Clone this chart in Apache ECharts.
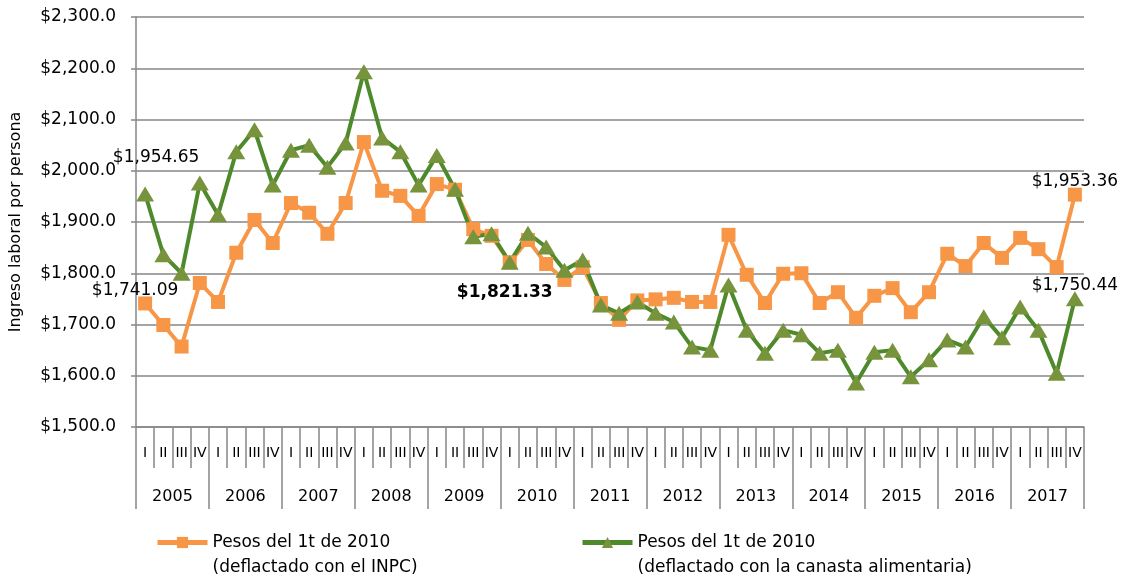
<!DOCTYPE html>
<html>
<head>
<meta charset="utf-8">
<script src="https://cdn.jsdelivr.net/npm/echarts@6/dist/echarts.min.js"></script>
<style>
  html, body { margin: 0; padding: 0; background: #fff; }
  #chart { width: 1123px; height: 579px; }
</style>
</head>
<body>
<div id="chart"></div>
<script>
// años y trimestres
const years = ['2005', '2006', '2007', '2008', '2009', '2010', '2011', '2012', '2013', '2014', '2015', '2016', '2017'];
const quarters = ['I', 'II', 'III', 'IV'];
const yTicks = [1500, 1600, 1700, 1800, 1900, 2000, 2100, 2200, 2300];

// ingreso laboral deflactado con el INPC
const inpc = [1741.09, 1699, 1657, 1781, 1744, 1840, 1904, 1859, 1937, 1918, 1877, 1937,
  2056, 1961, 1951, 1912, 1974, 1963, 1886, 1873, 1821.33, 1865, 1818, 1787,
  1812, 1742, 1709, 1747, 1749, 1752, 1744, 1744, 1875, 1797, 1742, 1799,
  1800, 1742, 1763, 1713, 1756, 1771, 1724, 1763, 1838, 1814, 1859, 1830,
  1869, 1847, 1812, 1953.36];

// ingreso laboral deflactado con la canasta alimentaria
const canasta = [1954.65, 1836, 1800, 1976, 1914, 2037, 2080, 1972, 2040, 2050, 2007, 2054,
  2193, 2064, 2037, 1972, 2030, 1964, 1871, 1877, 1821.33, 1878, 1851, 1806,
  1826, 1738, 1722, 1744, 1722, 1705, 1656, 1650, 1777, 1689, 1644, 1689,
  1680, 1644, 1650, 1586, 1646, 1650, 1598, 1631, 1670, 1656, 1715, 1674,
  1734, 1689, 1605, 1750.44];

const nameInpc = 'Pesos del 1t de 2010\n(deflactado con el INPC)';
const nameCanasta = 'Pesos del 1t de 2010\n(deflactado con la canasta alimentaria)';

const categories = [];
years.forEach(y => quarters.forEach(q => categories.push(y + '|' + q)));

const FONT = 'DejaVu Sans';
const GRAY = '#868686';
const money = v => '$' + v.toLocaleString('en-US', {minimumFractionDigits: 2, maximumFractionDigits: 2});

// etiquetas de los puntos destacados
const labelInpc = {
  0: {position: 'top', offset: [-10, 8]},
  51: {position: 'top', offset: [0, 7]}
};
const labelCanasta = {
  0: {position: 'top', offset: [11, -15]},
  20: {position: 'bottom', offset: [-5, 9], fontWeight: 'bold'},
  51: {position: 'top', offset: [0, 8]}
};

function withLabels(values, labels) {
  return values.map((v, i) => {
    if (!labels[i]) return v;
    return {
      value: v,
      label: Object.assign({
        show: true,
        formatter: p => money(p.value),
        color: '#000',
        fontFamily: FONT,
        fontSize: 17
      }, labels[i])
    };
  });
}

// una línea en blanco arriba para que el icono quede junto a la primera línea
const legendText = {fontFamily: FONT, fontSize: 17, color: '#000', lineHeight: 25};
const legendFmt = name => ' \n' + name;

const chart = echarts.init(document.getElementById('chart'));
const option = {
  animation: false,
  backgroundColor: '#fff',
  grid: {left: 133, right: 39, top: 17, bottom: 152},
  legend: [
    {data: [nameInpc], left: 150, top: 500, itemWidth: 50, itemHeight: 14,
      lineStyle: {width: 5}, formatter: legendFmt, textStyle: legendText},
    {data: [nameCanasta], left: 575, top: 500, itemWidth: 50, itemHeight: 14,
      lineStyle: {width: 5}, formatter: legendFmt, textStyle: legendText}
  ],
  xAxis: [
    {
      type: 'category',
      data: categories,
      position: 'bottom',
      axisLine: {show: true, lineStyle: {color: GRAY, width: 1.5}},
      axisTick: {show: true, interval: 0, length: 41, lineStyle: {color: GRAY, width: 1.5}},
      axisLabel: {
        interval: 0, margin: 19, color: '#000', fontFamily: FONT, fontSize: 14,
        formatter: v => v.split('|')[1]
      }
    },
    {
      type: 'category',
      data: years,
      position: 'bottom',
      axisLine: {show: false},
      axisTick: {show: true, interval: 0, length: 82, lineStyle: {color: GRAY, width: 1.5}},
      axisLabel: {interval: 0, margin: 62, color: '#000', fontFamily: FONT, fontSize: 16}
    }
  ],
  yAxis: {
    type: 'value',
    min: yTicks[0],
    max: yTicks[yTicks.length - 1],
    interval: 100,
    name: 'Ingreso laboral por persona',
    nameLocation: 'middle',
    nameGap: 112,
    nameTextStyle: {fontFamily: FONT, fontSize: 16, color: '#000'},
    axisLine: {show: true, lineStyle: {color: GRAY, width: 1.5}},
    axisTick: {show: true, length: 5, lineStyle: {color: GRAY, width: 1.5}},
    splitLine: {lineStyle: {color: GRAY, width: 1.5}},
    axisLabel: {
      margin: 20, color: '#000', fontFamily: FONT, fontSize: 17,
      formatter: v => '$' + v.toLocaleString('en-US', {minimumFractionDigits: 1, maximumFractionDigits: 1})
    }
  },
  series: [
    {
      name: nameInpc,
      type: 'line',
      xAxisIndex: 0,
      data: withLabels(inpc, labelInpc),
      symbol: 'rect',
      symbolSize: 14,
      lineStyle: {color: '#F79646', width: 4},
      itemStyle: {color: '#F79646'}
    },
    {
      name: nameCanasta,
      type: 'line',
      xAxisIndex: 0,
      data: withLabels(canasta, labelCanasta),
      symbol: 'triangle',
      symbolSize: [18, 15],
      lineStyle: {color: '#4E8A2C', width: 4},
      itemStyle: {color: '#77933C'}
    }
  ]
};
chart.setOption(option);
</script>
</body>
</html>
